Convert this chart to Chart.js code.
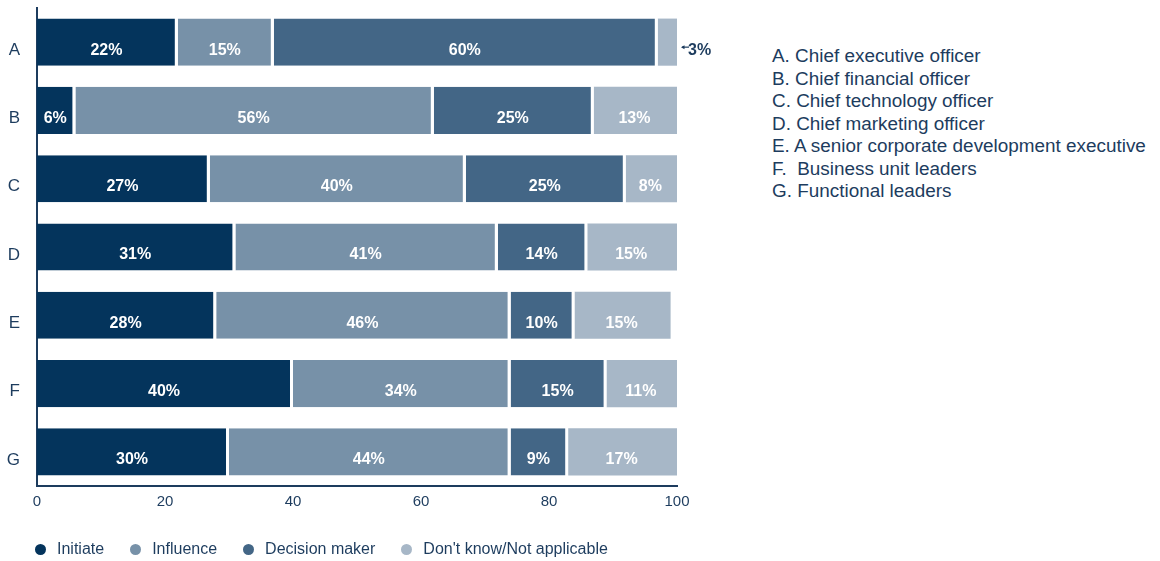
<!DOCTYPE html>
<html>
<head>
<meta charset="utf-8">
<title>Role in decisions</title>
<script src="https://cdn.jsdelivr.net/npm/chart.js@4.4.1/dist/chart.umd.min.js"></script>
<style>
  body { margin: 0; background: #fff; font-family: "Liberation Sans", Arial, sans-serif; color: #1d3c5e; }
  #wrap { position: relative; width: 1160px; height: 561px; }
  #box { position: absolute; left: 0; top: 0; width: 740px; height: 561px; }
  #roles { position: absolute; left: 772px; top: 45px; font-size: 18.9px; line-height: 22.5px; white-space: pre; }
  #legend { position: absolute; left: 35px; top: 539px; font-size: 16px; line-height: 20px; display: flex; }
  #legend .item { display: flex; align-items: center; margin-right: 26px; }
  #legend .dot { width: 11px; height: 11px; border-radius: 50%; margin-right: 11px; }
</style>
</head>
<body>
<div id="wrap">
  <div id="box"><canvas id="bars"></canvas></div>
  <div id="roles"></div>
  <div id="legend"></div>
</div>
<script>
// roles (rows) and the share of respondents in each answer group
const categories = ['A', 'B', 'C', 'D', 'E', 'F', 'G'];
const roleNames = [
  'A. Chief executive officer',
  'B. Chief financial officer',
  'C. Chief technology officer',
  'D. Chief marketing officer',
  'E. A senior corporate development executive',
  'F.  Business unit leaders',
  'G. Functional leaders'
];
const seriesNames = ['Initiate', 'Influence', 'Decision maker', "Don't know/Not applicable"];
const initiate = [22, 6, 27, 31, 28, 40, 30];
const influence = [15, 56, 40, 41, 46, 34, 44];
const decisionMaker = [60, 25, 25, 14, 10, 15, 9];
const dontKnow = [3, 13, 8, 15, 15, 11, 17];
const xTicks = [0, 20, 40, 60, 80, 100];

const colors = ['#04345c', '#7791a8', '#436686', '#a7b7c7'];
const ink = '#1d3c5e';
const font = '"Liberation Sans", Arial, sans-serif';

const series = [initiate, influence, decisionMaker, dontKnow];

// side list of role names
document.getElementById('roles').innerHTML = roleNames.map(n => '<div>' + n + '</div>').join('');

// legend under the chart
document.getElementById('legend').innerHTML = seriesNames.map((n, i) =>
  '<div class="item"><span class="dot" style="background:' + colors[i] + '"></span>' + n + '</div>'
).join('');

// labels on each segment; tiny segments get an arrow label to the right
const segmentLabels = {
  id: 'segmentLabels',
  afterDatasetsDraw(chart) {
    const ctx = chart.ctx;
    ctx.save();
    chart.data.datasets.forEach((ds, di) => {
      const meta = chart.getDatasetMeta(di);
      meta.data.forEach((bar, i) => {
        const v = ds.data[i];
        const left = bar.base, right = Math.min(bar.x, chart.chartArea.right);
        ctx.font = 'bold 16px ' + font;
        ctx.textBaseline = 'middle';
        if (v < 5) {
          const ax = chart.chartArea.right + 4;
          const ay = bar.y + 5;
          ctx.strokeStyle = ink;
          ctx.fillStyle = ink;
          ctx.lineWidth = 1.2;
          ctx.beginPath();
          ctx.moveTo(ax + 8, ay);
          ctx.lineTo(ax + 1, ay);
          ctx.stroke();
          ctx.beginPath();
          ctx.moveTo(ax, ay);
          ctx.lineTo(ax + 3.5, ay - 2);
          ctx.lineTo(ax + 3.5, ay + 2);
          ctx.closePath();
          ctx.fill();
          ctx.textAlign = 'left';
          ctx.fillText(v + '%', ax + 7, bar.y + 8);
        } else {
          ctx.fillStyle = '#ffffff';
          ctx.textAlign = 'center';
          ctx.fillText(v + '%', (left + right) / 2 - 1, bar.y + 8);
        }
      });
    });
    ctx.restore();
  }
};

new Chart(document.getElementById('bars'), {
  type: 'bar',
  data: {
    labels: categories,
    datasets: series.map((d, i) => ({
      label: seriesNames[i],
      data: d,
      backgroundColor: colors[i],
      borderColor: '#ffffff',
      borderWidth: i < series.length - 1 ? { right: 3, left: 0, top: 0, bottom: 0 } : 0,
      borderSkipped: false,
      barPercentage: 0.69,
      categoryPercentage: 1
    }))
  },
  options: {
    indexAxis: 'y',
    responsive: true,
    maintainAspectRatio: false,
    animation: false,
    layout: { padding: { top: 8, right: 63, bottom: 43, left: 0 } },
    plugins: {
      legend: { display: false },
      tooltip: { enabled: false }
    },
    scales: {
      x: {
        stacked: true,
        min: 0,
        max: 100,
        afterBuildTicks: axis => { axis.ticks = xTicks.map(v => ({ value: v })); },
        grid: { display: false, drawTicks: false },
        border: { display: true, color: ink, width: 2 },
        ticks: { color: ink, padding: 7, font: { size: 15, family: font } }
      },
      y: {
        stacked: true,
        afterFit: s => { s.width = 37; s.paddingTop = 0; s.paddingBottom = 0; },
        grid: { display: false, drawTicks: false },
        border: { display: true, color: ink, width: 2 },
        ticks: { color: ink, padding: 17, labelOffset: 8, font: { size: 17, family: font } }
      }
    }
  },
  plugins: [segmentLabels]
});
</script>
</body>
</html>
